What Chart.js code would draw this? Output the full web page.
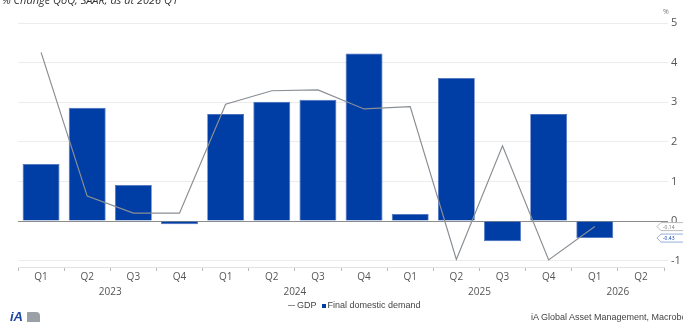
<!DOCTYPE html>
<html>
<head>
<meta charset="utf-8">
<script src="https://cdn.jsdelivr.net/npm/chart.js@4/dist/chart.umd.min.js"></script>
<style>
  html, body { margin: 0; padding: 0; background: #fff; overflow: hidden; }
  #wrap { position: relative; width: 683px; height: 324px; overflow: hidden; font-family: 'Open Sans', 'Noto Sans', sans-serif; }
  #chartBox { position: absolute; left: 0; top: 0; width: 683px; height: 324px; }
  .txt { position: absolute; white-space: nowrap; color: #444; }
  #title { left: 2px; top: -8px; font-size: 11px; font-style: italic; color: #333; }
  #legend { left: 288px; top: 300px; font-size: 9px; color: #444; font-family: 'Liberation Sans', sans-serif; }
  #legend span.ln { display: inline-block; width: 7px; height: 1px; background: #8a8f94; vertical-align: middle; margin-right: 2px; }
  #legend span.bx { display: inline-block; width: 4px; height: 4px; background: #003da5; vertical-align: middle; margin: 0 2px 0 5px; }
  #source { left: 531px; top: 312px; font-size: 9px; color: #444; font-family: 'Liberation Sans', sans-serif; }
  #logo { left: 10px; top: 309px; font-size: 13px; font-weight: bold; font-style: italic; color: #1b46a0; font-family: 'Liberation Sans', sans-serif; }
  #logoMark { position: absolute; left: 27px; top: 312px; width: 13px; height: 10px; background: #9aa0a6; border-radius: 1px 4px 0 0; }
</style>
</head>
<body>
<div id="wrap">
  <div id="chartBox"><canvas id="grafico"></canvas></div>
  <div class="txt" id="title">% Change QoQ, SAAR, as at 2026 Q1</div>
  <div class="txt" id="legend"><span class="ln"></span>GDP<span class="bx"></span>Final domestic demand</div>
  <div class="txt" id="logo">iA</div>
  <div id="logoMark"></div>
  <div class="txt" id="source">iA Global Asset Management, Macrobond</div>
</div>
<script>
const trimestres = ['Q1', 'Q2', 'Q3', 'Q4', 'Q1', 'Q2', 'Q3', 'Q4', 'Q1', 'Q2', 'Q3', 'Q4', 'Q1', 'Q2'];
const anios = ['2023', '2024', '2025', '2026'];
const anioDeTrimestre = ['2023', '2023', '2023', '2023', '2024', '2024', '2024', '2024', '2025', '2025', '2025', '2025', '2026', '2026'];
const pib = [4.26, 0.63, 0.2, 0.2, 2.95, 3.29, 3.31, 2.83, 2.89, -0.97, 1.9, -0.98, -0.14, null];
const demandaFinal = [1.44, 2.86, 0.91, -0.08, 2.7, 3.01, 3.06, 4.23, 0.18, 3.61, -0.51, 2.7, -0.43, null];
const ticksY = [-1, 0, 1, 2, 3, 4, 5];

const colorPib = '#8a8f94';
const colorDemanda = '#003da5';

// años centrados bajo sus trimestres + etiqueta "%" + marcas del último valor
const extras = {
  id: 'extras',
  afterDraw(chart) {
    const ctx = chart.ctx;
    const x = chart.scales.x;
    const y = chart.scales.y;
    ctx.save();
    ctx.font = '10px "Open Sans", sans-serif';
    ctx.fillStyle = '#555';
    ctx.textAlign = 'center';
    ctx.textBaseline = 'middle';
    anios.forEach(a => {
      const idx = anioDeTrimestre.map((v, i) => v === a ? i : -1).filter(i => i >= 0);
      const cx = (x.getPixelForValue(idx[0]) + x.getPixelForValue(idx[idx.length - 1])) / 2;
      ctx.fillText(a, cx, 292);
    });

    ctx.font = '7px "Open Sans", sans-serif';
    ctx.fillStyle = '#777';
    ctx.fillText('%', chart.chartArea.right + 2, 12);

    // marcas a la derecha con el último valor
    const marcas = [
      { datos: pib, borde: '#aaa', texto: '#777' },
      { datos: demandaFinal, borde: '#7f9bd0', texto: colorDemanda }
    ];
    marcas.forEach(m => {
      const validos = m.datos.filter(v => v !== null);
      const val = validos[validos.length - 1];
      const py = y.getPixelForValue(val);
      const x0 = chart.chartArea.right - 7;
      ctx.beginPath();
      ctx.moveTo(x0, py);
      ctx.lineTo(x0 + 4, py - 4);
      ctx.lineTo(x0 + 40, py - 4);
      ctx.lineTo(x0 + 40, py + 4);
      ctx.lineTo(x0 + 4, py + 4);
      ctx.closePath();
      ctx.fillStyle = '#fff';
      ctx.fill();
      ctx.strokeStyle = m.borde;
      ctx.lineWidth = 0.8;
      ctx.stroke();
      ctx.fillStyle = m.texto;
      ctx.font = '5px "Open Sans", sans-serif';
      ctx.textAlign = 'left';
      ctx.fillText(val.toFixed(2), x0 + 6, py + 0.5);
    });
    ctx.restore();
  }
};

const ctx = document.getElementById('grafico').getContext('2d');
const grafica = new Chart(ctx, {
  type: 'bar',
  data: {
    labels: trimestres,
    datasets: [
      {
        type: 'line',
        label: 'GDP',
        data: pib,
        borderColor: colorPib,
        borderWidth: 1.2,
        pointRadius: 0,
        tension: 0,
        fill: false,
        order: 1
      },
      {
        label: 'Final domestic demand',
        data: demandaFinal,
        backgroundColor: colorDemanda,
        borderColor: '#4a6fbf',
        borderWidth: 0.8,
        barPercentage: 0.8,
        categoryPercentage: 1,
        order: 2
      }
    ]
  },
  options: {
    responsive: true,
    maintainAspectRatio: false,
    animation: false,
    layout: { padding: { left: 18, top: 23, right: 0, bottom: 0 } },
    plugins: {
      legend: { display: false },
      tooltip: { enabled: false },
      title: { display: false }
    },
    scales: {
      x: {
        offset: true,
        grid: {
          offset: true,
          drawOnChartArea: false,
          drawTicks: true,
          tickLength: 4,
          color: '#bbb'
        },
        border: { display: true, color: '#e2e2e2' },
        ticks: {
          color: '#555',
          font: { size: 10, family: 'Open Sans' },
          padding: 0,
          maxRotation: 0,
          autoSkip: false
        },
        afterFit: scale => { scale.height = 57; }
      },
      y: {
        position: 'right',
        min: -1.16,
        max: 5,
        grid: {
          color: c => c.tick.value === 0 ? '#8c8c8c' : '#ececec',
          lineWidth: 1,
          drawTicks: true,
          tickLength: 4
        },
        border: { display: false },
        afterBuildTicks: scale => {
          scale.ticks = ticksY.map(v => ({ value: v }));
        },
        ticks: {
          color: '#555',
          font: { size: 11, family: 'Open Sans' },
          padding: 3
        },
        afterFit: scale => { scale.width = 19; }
      }
    }
  },
  plugins: [extras]
});
</script>
</body>
</html>
